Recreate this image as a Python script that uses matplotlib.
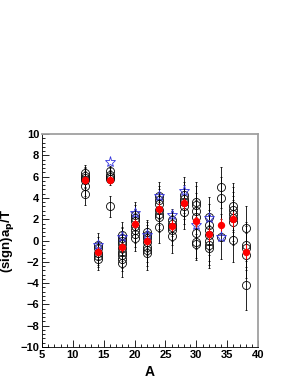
import numpy as np
import matplotlib
matplotlib.use('Agg')
import matplotlib.pyplot as plt
from matplotlib.ticker import MultipleLocator

# mass numbers
A = [12, 14, 16, 18, 20, 22, 24, 26, 28, 30, 32, 34, 36, 38]

# individual measurements (open circles) and their errors, one list per A
circ_vals = [
	[6.3, 6.1, 5.9, 5.7, 5.1, 4.4],
	[-0.4, -0.7, -1.2, -1.45, -1.7],
	[6.5, 6.2, 6.0, 5.8, 3.2],
	[0.5, 0.2, 0.0, -0.3, -0.7, -1.05, -1.4, -1.7, -2.1],
	[2.4, 2.1, 1.8, 1.4, 1.0, 0.6, 0.2],
	[0.8, 0.5, 0.2, -0.1, -0.6, -0.9, -1.2],
	[4.2, 3.8, 3.4, 2.9, 2.5, 2.2, 1.3],
	[1.9, 1.6, 1.3, 1.0, 0.4],
	[4.3, 3.9, 3.6, 3.2, 2.7],
	[3.6, 3.3, 2.8, 2.2, 0.7, -0.1, -0.3],
	[2.2, 1.5, 1.0, 0.5, 0.0, -0.4, -0.7],
	[5.0, 4.0, 0.35],
	[3.2, 2.9, 2.5, 2.1, 1.7, 0.05],
	[1.15, -0.4, -0.7, -1.4, -4.2],
]
circ_errs = [
	[0.8, 0.8, 0.9, 0.8, 0.9, 1.1],
	[1.1, 1.0, 1.1, 1.0, 1.1],
	[0.5, 0.6, 0.6, 0.6, 1.0],
	[1.2, 1.1, 1.2, 1.1, 1.2, 1.1, 1.2, 1.2, 1.3],
	[1.2, 1.2, 1.2, 1.2, 1.2, 1.2, 1.2],
	[1.1, 1.2, 1.3, 1.3, 1.4, 1.5, 1.6],
	[1.3, 1.3, 1.4, 1.4, 1.4, 1.4, 1.5],
	[1.1, 1.2, 1.3, 1.4, 1.6],
	[1.7, 1.6, 1.6, 1.6, 1.6],
	[1.9, 1.8, 1.7, 1.6, 1.5, 1.5, 1.5],
	[1.9, 1.9, 1.9, 1.9, 1.9, 1.9, 1.9],
	[1.9, 2.0, 2.1],
	[2.2, 2.1, 2.1, 2.1, 2.1, 2.1],
	[2.1, 2.1, 2.1, 2.1, 2.3],
]

# weighted means (red)
mean_vals = [5.7, -1.05, 5.7, -0.65, 1.6, 0.0, 3.0, 1.4, 3.5, 1.8, 0.6, 1.5, 2.0, -1.05]
mean_errs = [0.4, 0.4, 0.4, 0.4, 0.4, 0.4, 0.5, 0.5, 0.5, 0.5, 0.6, 0.6, 0.7, 0.7]

# blue stars
star_A = [14, 16, 18, 20, 22, 24, 26, 28, 30, 32, 34]
star_vals = [-0.4, 7.35, 0.35, 2.6, 0.5, 4.2, 2.4, 4.7, 1.45, 2.1, 0.35]

plt.rcParams['font.family'] = ['Liberation Sans', 'DejaVu Sans']
plt.rcParams['font.weight'] = 'bold'

fig = plt.figure(figsize=(2.98, 3.85), dpi=100)
ax = fig.add_axes([0.141, 0.0987, 0.725, 0.553])

for a, vals, errs in zip(A, circ_vals, circ_errs):
	ax.errorbar([a] * len(vals), vals, yerr=errs, fmt='o', mfc='none', mec='black',
		ms=5.8, mew=0.6, ecolor='black', elinewidth=0.6, capsize=0.8, capthick=0.6, zorder=2)

ax.plot(star_A, star_vals, '*', mfc='none', mec='#3333dd', ms=8, mew=0.6, zorder=3)

ax.errorbar(A, mean_vals, yerr=mean_errs, fmt='o', color='red', ms=5.3, mew=0,
	ecolor='red', elinewidth=0.8, capsize=0, zorder=4)

ax.set_xlim(5, 40)
ax.set_ylim(-10, 10)
ax.xaxis.set_major_locator(MultipleLocator(5))
ax.xaxis.set_minor_locator(MultipleLocator(1))
ax.yaxis.set_major_locator(MultipleLocator(2))
ax.yaxis.set_minor_locator(MultipleLocator(0.4))
ax.tick_params(which='both', direction='in', top=False, right=False, labelsize=8, pad=2)
ax.tick_params(which='major', length=5, width=0.6)
ax.tick_params(which='minor', length=2.5, width=0.6)

for s in ['top', 'right']:
	ax.spines[s].set_color('#a0a0a0')
	ax.spines[s].set_linewidth(1.3)
for s in ['left', 'bottom']:
	ax.spines[s].set_linewidth(0.6)

ax.set_xlabel('A', fontsize=10, fontweight='bold', labelpad=4)
ax.set_ylabel('(sign)a$_\\mathbf{p}$/T', fontsize=9.5, fontweight='bold')
ax.yaxis.set_label_coords(-0.12, 0.5)

fig.savefig('out.png', dpi=100)
